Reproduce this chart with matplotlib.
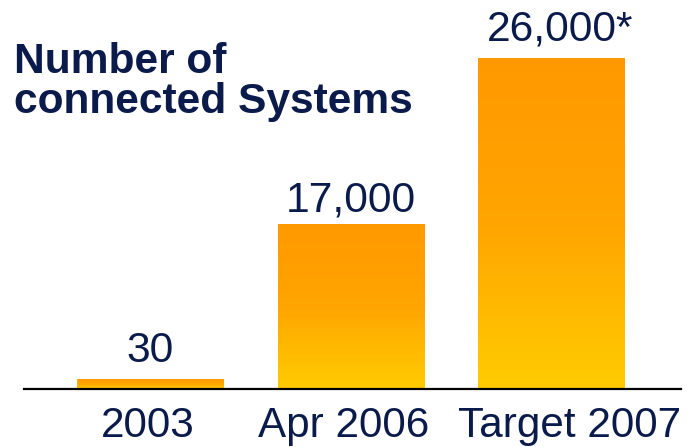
import matplotlib
matplotlib.use('Agg')
import matplotlib.pyplot as plt
import matplotlib.transforms as mtransforms
import numpy as np
from matplotlib.colors import LinearSegmentedColormap

# Data
periods = ['2003', 'Apr 2006', 'Target 2007']
systems = [30, 17000, 26000]
value_labels = ['30', '17,000', '26,000*']

NAVY = '#0a1a4a'
plt.rcParams['font.family'] = ['Liberation Sans', 'DejaVu Sans']

# The axis is not proportional: small counts get stretched so they stay visible
scale_vals = [0, 30, 17000, 26000]
scale_pos = [0, 10, 165, 330]


def forward(v):
    return np.interp(v, scale_vals, scale_pos)


def inverse(p):
    return np.interp(p, scale_pos, scale_vals)


fig = plt.figure(figsize=(6.9, 4.47), dpi=100)
ax = fig.add_axes([24 / 690, 58 / 447, 657 / 690, 331 / 447])
ax.set_yscale('function', functions=(forward, inverse))
xmin, xmax = -0.6325, 2.6525

x = np.arange(len(periods))
width = 0.73
bars = ax.bar(x, systems, width=width, color='#ffb000', zorder=2)

# orange at the top fading into yellow at the base, per bar
grad = LinearSegmentedColormap.from_list('bar_grad', ['#ffcc00', '#ffa500', '#ff9900'])
ramp = np.linspace(0, 1, 256).reshape(-1, 1)
for xi, val, bar in zip(x, systems, bars):
    x0 = (xi - width / 2 - xmin) / (xmax - xmin)
    x1 = (xi + width / 2 - xmin) / (xmax - xmin)
    top = forward(val) / forward(26000)
    im = ax.imshow(ramp, cmap=grad, origin='lower', aspect='auto',
                   extent=(x0, x1, 0, top), transform=ax.transAxes, zorder=3)
    im.set_clip_path(bar)

ax.set_xlim(xmin, xmax)
ax.set_ylim(0, 26000)

anns = ax.bar_label(bars, labels=value_labels, padding=4, fontsize=30.7, color=NAVY)
# small per-label offsets (points)
for ann, off in zip(anns, [(0, 6), (0, 2.5), (7, 6)]):
    ann.xyann = off

ax.set_xticks(x)
ax.set_xticklabels(periods, fontsize=30.4, color=NAVY)
ax.tick_params(axis='x', length=0, pad=12)
# nudge the category names sideways a little
for lbl, dx in zip(ax.get_xticklabels(), [-3, -6.5, 19]):
    lbl.set_transform(lbl.get_transform() +
                      mtransforms.ScaledTranslation(dx / 100, 0, fig.dpi_scale_trans))
ax.set_yticks([])
for side in ['top', 'right', 'left']:
    ax.spines[side].set_visible(False)
ax.spines['bottom'].set_linewidth(1.6)
ax.spines['bottom'].set_zorder(4)

fig.text(14 / 690, 1 - 42 / 447, 'Number of\nconnected Systems', fontsize=30.6,
         fontweight='bold', color=NAVY, ha='left', va='top', linespacing=0.99)

fig.savefig('out.png', dpi=100)
